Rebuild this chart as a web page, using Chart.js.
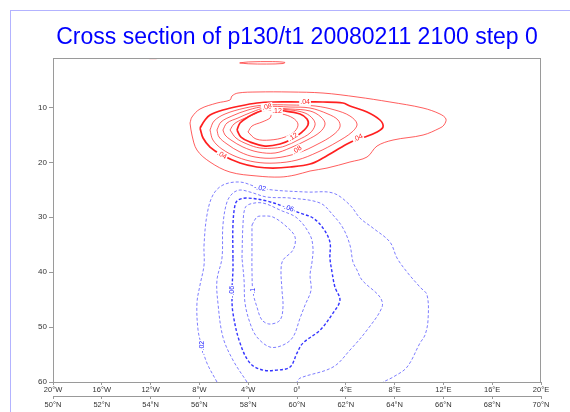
<!DOCTYPE html>
<html><head><meta charset="utf-8">
<script src="https://cdn.jsdelivr.net/npm/chart.js@4"></script>
<style>
html,body{margin:0;padding:0;background:#fff;}
#wrap{position:relative;width:570px;height:412px;overflow:hidden;}
#frame{position:absolute;left:10px;top:10px;width:700px;height:600px;border:1px solid #b3b3ff;}
canvas{position:absolute;left:0;top:0;}
</style></head><body>
<div id="wrap"><div id="frame"></div><canvas id="c" width="570" height="412"></canvas></div>
<script>
// ---- data (longitude in degrees E, pressure level) ----
const xTicks = [-20,-16,-12,-8,-4,0,4,8,12,16,20];
const latTicks = [50,52,54,56,58,60,62,64,66,68,70];
const yTicks = [10,20,30,40,50,60];

const pos02 = [[-8.77,12.84],[-8.61,11.75],[-7.95,10.29],[-6.56,9.20],[-5.49,8.65],[-5.33,7.92],[-4.84,7.38],[-3.28,7.19],[-0.57,7.19],[2.13,7.38],[4.92,8.10],[7.62,9.01],[10.33,10.11],[11.72,11.20],[12.21,12.11],[12.05,13.20],[11.72,13.75],[10.33,15.03],[7.87,15.94],[6.56,17.03],[5.74,19.03],[4.34,19.94],[2.46,21.04],[1.07,21.58],[-0.16,22.31],[-1.39,22.68],[-3.28,22.49],[-5.49,21.77],[-7.13,19.94],[-8.20,17.76],[-8.61,15.03],[-8.77,12.84]];
const pos04 = [[-7.95,13.75],[-7.54,12.29],[-7.13,11.38],[-6.07,10.47],[-4.67,9.74],[-3.28,9.20],[-1.97,9.01],[0.25,9.01],[2.13,9.01],[3.77,9.20],[4.34,9.74],[5.74,10.84],[6.80,12.29],[7.05,13.57],[6.56,14.48],[5.57,15.39],[5.00,15.75],[4.10,16.66],[2.13,19.21],[1.07,20.31],[-0.57,20.85],[-1.97,21.04],[-3.28,20.85],[-4.67,20.13],[-6.15,18.67],[-7.13,17.21],[-7.70,15.57],[-7.95,13.75]];
const pos06 = [[-7.13,14.11],[-6.80,12.48],[-5.90,11.20],[-4.26,10.11],[-2.62,9.56],[-0.57,9.56],[1.48,9.74],[3.11,10.47],[4.34,11.56],[4.92,13.02],[4.51,14.48],[3.28,16.30],[1.72,18.12],[0,19.58],[-1.80,20.13],[-3.44,19.94],[-4.92,19.03],[-6.15,17.58],[-6.89,15.94],[-7.13,14.11]];
const pos08 = [[-6.56,14.11],[-6.23,12.66],[-5.33,11.56],[-4.02,10.47],[-2.62,9.83],[-0.57,9.93],[1.07,10.11],[2.54,11.20],[3.36,12.29],[3.52,13.57],[2.95,15.03],[1.72,16.66],[0.08,18.30],[-1.80,19.21],[-3.44,19.03],[-4.67,18.12],[-5.74,16.66],[-6.39,15.39],[-6.56,14.11]];
const pos10 = [[-6.07,14.11],[-5.74,12.84],[-4.84,11.93],[-3.69,10.84],[-2.62,10.11],[-0.57,10.29],[1.07,10.65],[1.97,11.75],[2.30,13.02],[1.89,14.48],[0.82,15.94],[-0.57,17.39],[-1.80,18.30],[-3.20,18.12],[-4.43,17.21],[-5.41,15.94],[-5.90,15.03],[-6.07,14.11]];
const pos12 = [[-5.49,14.11],[-5.16,13.02],[-4.43,12.11],[-3.44,11.20],[-2.62,10.29],[-0.57,10.47],[0.66,11.02],[1.31,12.11],[1.48,13.20],[1.07,14.66],[0.08,15.94],[-0.98,17.03],[-1.80,17.39],[-3.03,17.39],[-4.10,16.66],[-5.00,15.57],[-5.49,14.11]];
const pos14 = [[-4.92,14.11],[-4.67,12.84],[-4.02,11.75],[-3.20,10.84],[-2.38,10.47],[-0.98,10.65],[0.25,11.20],[0.82,12.11],[0.90,13.20],[0.41,14.48],[-0.41,15.75],[-1.39,16.66],[-2.62,17.03],[-3.85,16.30],[-4.59,15.39],[-4.92,14.11]];
const pos16 = [[-4.02,14.48],[-3.69,13.39],[-2.87,12.66],[-2.21,11.93],[-2.05,11.20],[-1.23,11.20],[-0.33,11.93],[0.08,13.02],[-0.16,14.30],[-0.98,15.39],[-2.21,15.94],[-3.36,15.75],[-4.02,14.48]];
const posTop = [[-4.7,1.9],[-4.0,1.72],[-2.0,1.66],[-1.0,1.8],[-1.1,2.0],[-2.5,2.1],[-4.0,2.05],[-4.7,1.9]];
const posTop2 = [[-12.1,1.12],[-11.5,1.12]];

const neg02 = [[-6.56,60],[-7.38,56.56],[-7.79,53.64],[-8.11,50.54],[-8.20,45.63],[-7.95,42.35],[-7.62,38.70],[-7.62,35.07],[-7.38,29.60],[-6.89,25.95],[-6.07,24.13],[-4.67,23.59],[-3.28,24.50],[-1.97,25.04],[0.82,25.41],[2.95,25.59],[4.34,27.78],[5.16,30.14],[6.23,31.97],[7.62,34.52],[8.20,37.43],[9.02,39.98],[10.08,42.72],[10.66,44.17],[10.74,48.72],[10.49,51.46],[10.08,52.91],[9.02,57.28],[7.87,59.11],[7.05,60]];
const neg04 = [[-4.10,60],[-5.25,56.01],[-6.07,51.82],[-6.48,45.63],[-6.56,41.44],[-6.15,37.43],[-6.07,31.42],[-5.74,27.23],[-5.25,25.59],[-4.67,25.04],[-3.85,25.41],[-2.46,26.32],[-0.57,26.50],[1.89,27.41],[2.95,29.60],[3.77,31.97],[4.34,35.07],[4.59,38.16],[4.92,39.62],[5.33,41.44],[6.80,44.53],[6.97,46.36],[5.74,50.54],[4.34,54.19],[2.95,57.28],[0.25,59.29],[0,60]];
const neg06 = [[-5.25,37.43],[-5.25,31.42],[-5.08,27.78],[-4.84,26.87],[-4.10,26.50],[-2.46,27.05],[-0.74,28.32],[0.25,29.23],[1.31,30.14],[2.13,31.97],[2.70,34.52],[2.70,37.43],[2.87,39.98],[3.11,42.72],[3.52,45.08],[2.95,47.45],[1.89,50.54],[0.49,52.91],[0,54.73],[-0.57,57.28],[-1.64,57.83],[-2.79,57.83],[-3.85,56.56],[-4.67,52.91],[-5.25,47.45],[-5.33,43.63],[-5.25,39.62],[-5.25,37.43]];
const neg08 = [[-4.51,37.43],[-4.43,31.42],[-4.26,28.32],[-3.85,27.59],[-2.79,27.41],[-1.39,28.69],[0,30.14],[1.07,33.24],[1.31,35.61],[1.23,38.16],[1.07,40.53],[1.15,43.27],[0.66,45.99],[0.25,48.36],[-0.33,51.82],[-1.15,53.28],[-2.21,53.64],[-3.28,51.82],[-3.85,49.27],[-4.26,45.63],[-4.34,41.44],[-4.51,37.43]];
const neg10 = [[-3.69,31.42],[-3.28,29.96],[-2.79,29.78],[-1.97,29.96],[-0.82,31.78],[-0.16,33.61],[-0.33,35.97],[-1.15,37.80],[-1.31,39.62],[-1.23,43.27],[-1.15,46.36],[-1.39,48.72],[-2.21,49.45],[-2.87,48.72],[-3.28,46.36],[-3.61,43.63],[-3.69,39.62],[-3.69,35.97],[-3.69,31.42]];

const labelText = ['.04','.04','.04','.08','.08','.12','.12','-.02','-.02','-.06','-.06','-.1'];
const labelLon  = [0.66,5.0,-6.15,-2.46,0.0,-1.64,-0.33,-3.03,-7.79,-0.74,-5.33,-3.61];
const labelP    = [9.0,15.57,18.67,9.93,17.76,10.65,15.39,24.7,53.6,28.3,43.6,43.6];

// ---- styles ----
const RED_THIN = 'rgba(255,40,40,0.75)', RED_THICK = 'rgba(255,20,20,0.95)';
const BLUE_THIN = 'rgba(70,70,255,0.7)', BLUE_THICK = 'rgba(30,30,255,0.9)';
const lines = [
  {d:pos02, c:RED_THIN, w:1}, {d:pos04, c:RED_THICK, w:1.7}, {d:pos06, c:RED_THIN, w:1},
  {d:pos08, c:RED_THIN, w:1}, {d:pos10, c:RED_THIN, w:1}, {d:pos12, c:RED_THIN, w:1},
  {d:pos14, c:RED_THICK, w:1.7}, {d:pos16, c:RED_THIN, w:1},
  {d:posTop, c:RED_THIN, w:1}, {d:posTop2, c:RED_THIN, w:1},
  {d:neg02, c:BLUE_THIN, w:1, dash:[3,2]}, {d:neg04, c:BLUE_THIN, w:1, dash:[3,2]},
  {d:neg06, c:BLUE_THICK, w:1.4, dash:[3,2]}, {d:neg08, c:BLUE_THIN, w:1, dash:[3,2]},
  {d:neg10, c:BLUE_THIN, w:1, dash:[3,2]}
];
const labelAngle = [0,-25,30,-10,-35,0,-30,10,-90,20,-90,-90];

const FONT = "'Liberation Sans', Arial, Helvetica, sans-serif";

const framePlugin = {
  id:'frame',
  afterDraw(chart){
    const {ctx, chartArea:a} = chart;
    ctx.save();
    ctx.strokeStyle = '#9a9a9a'; ctx.lineWidth = 1;
    ctx.strokeRect(Math.round(a.left)+0.5, Math.round(a.top)+0.5, Math.round(a.right-a.left)-1, Math.round(a.bottom-a.top));
    ctx.restore();
  }
};
const labelPlugin = {
  id:'clabels',
  afterDatasetsDraw(chart){
    const {ctx} = chart; const xs = chart.scales.x, ys = chart.scales.y;
    ctx.save();
    ctx.font = "7px " + FONT;
    ctx.textAlign = 'center'; ctx.textBaseline = 'middle';
    labelText.forEach((t,i)=>{
      const px = xs.getPixelForValue(labelLon[i]), py = ys.getPixelForValue(labelP[i]);
      ctx.save(); ctx.translate(px,py); ctx.rotate(labelAngle[i]*Math.PI/180);
      const w = ctx.measureText(t).width;
      ctx.fillStyle = '#fff'; ctx.fillRect(-w/2-1,-4,w+2,8);
      ctx.fillStyle = t.startsWith('-') ? '#2020ff' : '#ff2020';
      ctx.fillText(t,0,0);
      ctx.restore();
    });
    ctx.restore();
  }
};

const lonLabel = v => v < 0 ? (-v)+'°W' : (v > 0 ? v+'°E' : '0°');

new Chart(document.getElementById('c'), {
  type:'scatter',
  data:{ datasets: lines.map(l => ({
    data: l.d.map(([x,y]) => ({x,y})), showLine:true, pointRadius:0, pointHoverRadius:0,
    borderColor:l.c, borderWidth:l.w, borderDash:l.dash||[], tension:0.35, fill:false,
    xAxisID:'x', yAxisID:'y'
  }))},
  options:{
    responsive:false, animation:false, devicePixelRatio:1,
    layout:{padding:{left:0,right:29,top:0,bottom:0}},
    plugins:{
      legend:{display:false}, tooltip:{enabled:false},
      title:{display:true, fullSize:false, text:'Cross section of p130/t1 20080211 2100 step 0',
        color:'#0000ff', font:{family:FONT, size:23, weight:'normal', lineHeight:1.2},
        padding:{top:24, bottom:6.4}}
    },
    scales:{
      x:{type:'linear', position:'bottom', min:-20, max:20, weight:0,
        afterBuildTicks:s=>{s.ticks = xTicks.map(v=>({value:v}));},
        ticks:{callback:lonLabel, font:{family:FONT,size:7.5}, color:'#333', padding:0, maxRotation:0, autoSkip:false},
        grid:{drawOnChartArea:false, tickLength:3, color:'#999'}, border:{color:'#999', width:1},
        afterFit:s=>{s.height=14; s.paddingLeft=0; s.paddingRight=0;}},
      x2:{type:'linear', position:'bottom', min:50, max:70, weight:1,
        afterBuildTicks:s=>{s.ticks = latTicks.map(v=>({value:v}));},
        ticks:{callback:v=>v+'°N', font:{family:FONT,size:7.5}, color:'#333', padding:1, maxRotation:0, autoSkip:false},
        grid:{drawOnChartArea:false, tickLength:3, color:'#999'}, border:{color:'#999', width:1},
        afterFit:s=>{s.height=16; s.paddingLeft=0; s.paddingRight=0;}},
      y:{type:'linear', position:'left', reverse:true, min:1, max:60,
        afterBuildTicks:s=>{s.ticks = yTicks.map(v=>({value:v}));},
        ticks:{font:{family:FONT,size:8}, color:'#333', padding:2},
        grid:{drawOnChartArea:false, tickLength:4, color:'#999'}, border:{color:'#999', width:1},
        afterFit:s=>{s.width=53; s.paddingTop=0; s.paddingBottom=0;}}
    }
  },
  plugins:[framePlugin, labelPlugin]
});
</script>
</body></html>
